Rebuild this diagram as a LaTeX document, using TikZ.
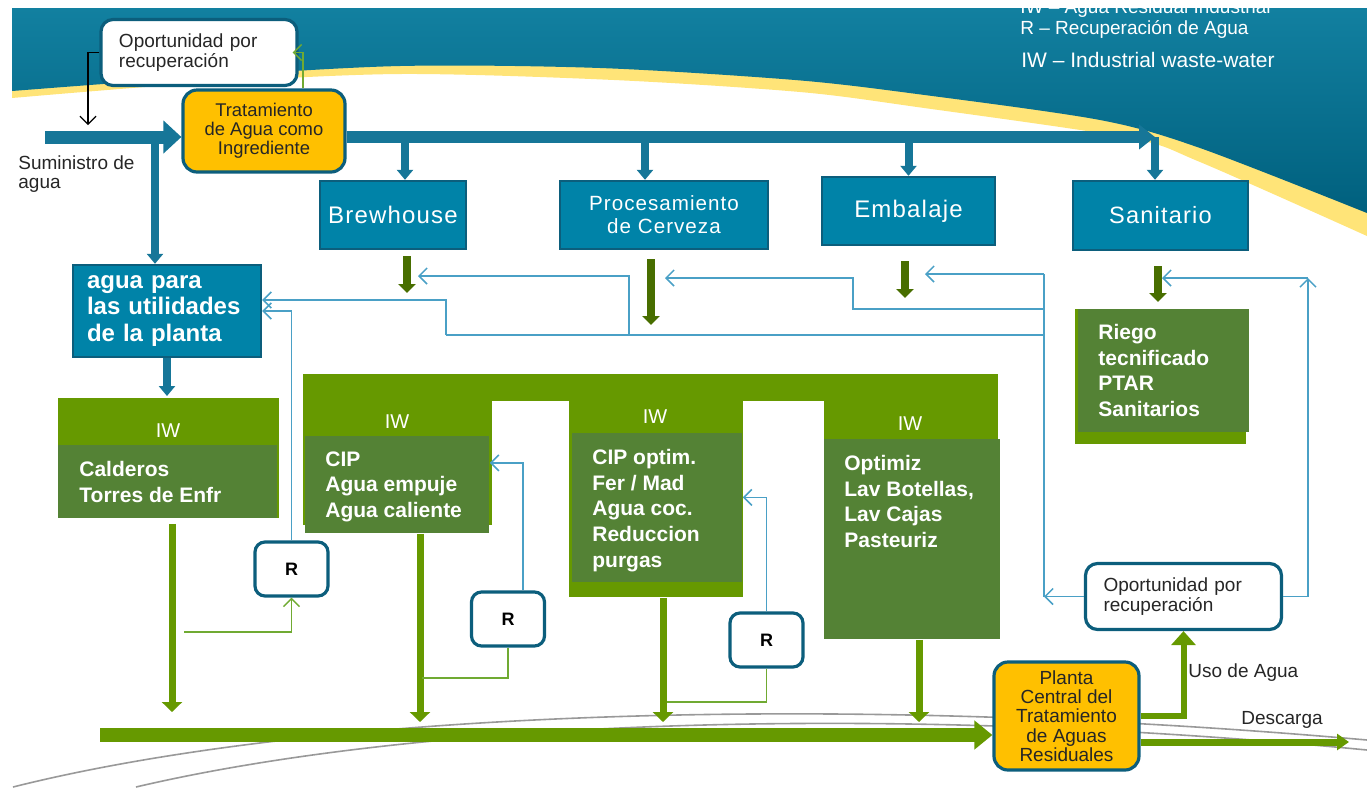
\documentclass[tikz,border=0pt]{standalone}
\usepackage{fontspec}
\setmainfont{Liberation Sans}
\newfontfamily\tealfont[LetterSpace=5]{Liberation Sans}
\usetikzlibrary{positioning}
\usetikzlibrary{arrows.meta}
\definecolor{tealfill}{RGB}{0,131,168}
\definecolor{tealdark}{RGB}{12,94,124}
\definecolor{tealarrow}{RGB}{22,118,152}
\definecolor{bandtop}{RGB}{18,128,160}
\definecolor{bandbot}{RGB}{0,96,126}
\definecolor{bandyel}{RGB}{255,228,120}
\definecolor{orangef}{RGB}{255,192,0}
\definecolor{greenlight}{RGB}{102,153,0}
\definecolor{greendark}{RGB}{84,130,53}
\definecolor{greendeep}{RGB}{72,110,0}
\definecolor{fblue}{RGB}{74,160,198}
\definecolor{thingreen}{RGB}{112,170,50}
\tikzset{
    tealbox/.style = {rectangle, draw=tealdark, line width=1.2pt, fill=tealfill, text=white, align=center, inner sep=2pt},
    oportbox/.style = {rectangle, rounded corners=6pt, draw=tealdark, line width=1.6pt, fill=white, text=black!85, align=left, text width=80pt, inner xsep=9pt, minimum height=33pt, font=\fontsize{9.5}{10.3}\selectfont},
    orangebox/.style = {rectangle, rounded corners=7pt, draw=tealdark, line width=1.6pt, fill=orangef, text=black!85, align=center, inner sep=1pt},
    rbox/.style = {rectangle, rounded corners=5pt, draw=tealdark, line width=1.6pt, fill=white, minimum width=36.5pt, minimum height=27pt, font=\bfseries\fontsize{9}{10}\selectfont},
    iwbody/.style = {rectangle, fill=greendark, anchor=north west, inner sep=0pt},
    iwhead/.style = {text=white, inner sep=0pt, font=\fontsize{10}{11}\selectfont},
    iwtext/.style = {text=white, anchor=north west, align=left, inner sep=0pt, font=\bfseries\fontsize{10.5}{12.8}\selectfont},
    lbl/.style = {text=black!85, inner sep=0pt, font=\fontsize{9.5}{9.6}\selectfont},
    legend/.style = {text=white, anchor=base west, inner sep=0pt, font=\fontsize{9.5}{11}\selectfont},
    edgesup/.style = {-{Triangle[length=9pt,width=16pt]}, line width=6.5pt, draw=tealarrow},
    edgetm/.style = {-{Triangle[length=8pt,width=12pt]}, line width=6pt, draw=tealarrow},
    edget/.style = {-{Triangle[length=5pt,width=8pt]}, line width=4pt, draw=tealarrow},
    edged/.style = {-{Triangle[length=4.5pt,width=8.5pt]}, line width=4pt, draw=greendeep},
    edgeg/.style = {-{Triangle[length=5pt,width=10pt]}, line width=3.5pt, draw=greenlight},
    edgem/.style = {-{Triangle[length=9pt,width=14pt]}, line width=7pt, draw=greenlight},
    edgeu/.style = {-{Triangle[length=7pt,width=12pt]}, line width=3pt, draw=greenlight},
    edgeds/.style = {-{Triangle[length=6pt,width=8pt]}, line width=3.5pt, draw=greenlight},
    edgeb/.style = {-{Straight Barb[length=4pt,width=8pt]}, line width=0.75pt, draw=fblue}, % recovery
    edgek/.style = {-{Straight Barb[length=4pt,width=8pt]}, line width=0.6pt, draw=black},
    lineb/.style = {line width=0.75pt, draw=fblue},
    lineg/.style = {line width=0.75pt, draw=thingreen},
    floorline/.style = {line width=0.8pt, draw=gray!80}
}
\begin{document}
\begin{tikzpicture}[x=0.5pt, y=-0.5pt]
  \useasboundingbox (0,0) rectangle (1367,789);
  % header band
  \fill[bandyel] (12,8) -- (1367,8) -- plot[smooth] coordinates {(1367,236) (1200,162) (1129,138) (917,107) (800,92) (614,80) (400,74) (200,83) (12,98)} -- cycle;
  \shade[top color=bandtop, bottom color=bandbot] (12,8) -- (1367,8) -- plot[smooth] coordinates {(1367,213) (1200,148) (1100,120) (917,94) (795,80) (600,68) (400,66) (200,77) (12,91)} -- cycle;
  \draw[floorline] (13,787) .. controls (300,715) and (800,690) .. (1367,740);
  \draw[floorline] (136,787) .. controls (400,725) and (850,700) .. (1367,750);

  \node[legend] (leg1) at (1020,13) {IW – Agua Residual Industrial};
  \node[legend] (leg2) at (1020,34) {R – Recuperación de Agua};
  \node[legend, font=\fontsize{10.5}{12}\selectfont] (leg3) at (1021,67) {IW – Industrial waste-water};

  % supply side
  \node[oportbox] (oport1) at (199,52.5) {Oportunidad por\\recuperación};
  \node[orangebox, minimum width=81pt, minimum height=41pt, font=\fontsize{9.2}{9.6}\selectfont] (trat) at (264,131) {Tratamiento\\de Agua como\\Ingrediente};
  \node[lbl, anchor=north west, align=left] (supl) at (18,155) {Suministro de\\agua};

  \node[tealbox, minimum width=73pt, minimum height=34pt, font=\tealfont\fontsize{12}{13}\selectfont] (brew) at (393,215) {Brewhouse};
  \node[tealbox, minimum width=104pt, minimum height=34pt, font=\tealfont\fontsize{10.3}{11.5}\selectfont] (proc) at (664,215) {Procesamiento\\de Cerveza};
  \node[tealbox, minimum width=86.5pt, minimum height=34pt, font=\tealfont\fontsize{12}{13}\selectfont] (emb) at (908.5,211) {Embalaje};
  \node[tealbox, minimum width=87.5pt, minimum height=34.5pt, font=\tealfont\fontsize{11.8}{13}\selectfont] (sani) at (1160.5,215.5) {Sanitario};
  \node[tealbox, align=left, text width=80pt, inner xsep=7pt, minimum height=46pt, font=\bfseries\fontsize{12}{13.3}\selectfont] (agua) at (167,311) {agua para\\las utilidades\\de la planta};

  \coordinate (sup) at (45,137);
  \coordinate (sv) at (155,137);
  \coordinate (mt) at (1155,137);
  \coordinate (k1) at (88,125);
  \coordinate (aw) at (167,396);
  \draw[edget] (sv) -- (agua.north -| sv);
  \draw[edgesup] (sup) -- ([yshift=-3pt]trat.west);
  \draw[edgetm] ([yshift=-3pt]trat.east) -- (mt);
  \draw[edget] ([xshift=6pt]brew.north |- mt) -- ([xshift=6pt]brew.north);
  \draw[edget] ([xshift=-9.5pt]proc.north |- mt) -- ([xshift=-9.5pt]proc.north);
  \draw[edget] (emb.north |- mt) -- (emb.north);
  \draw[edget] (mt) -- (sani.north -| mt);
  \draw[edget] (agua.south) -- (aw);
  \draw[edgek] (oport1.west) -| (k1);
  \draw[lineg, -{Straight Barb[length=4pt,width=8pt]}] ([xshift=19.5pt]trat.north) |- ([xshift=-3pt]oport1.east);

  % waste water from the process areas
  \coordinate (d1) at (407,293);
  \coordinate (d2) at (651,325);
  \coordinate (d3) at (905,298);
  \coordinate (d4) at (1158,302);
  \draw[edged] ([yshift=-3pt]brew.south -| d1) -- (d1);
  \draw[edged] ([yshift=-4.5pt]proc.south -| d2) -- (d2);
  \draw[edged] ([yshift=-7.5pt]emb.south -| d3) -- (d3);
  \draw[edged] ([yshift=-7.5pt]sani.south -| d4) -- (d4);

  % IW blocks
  \fill[greenlight] (58,398) rectangle (279,518);
  \fill[greenlight] (303,374) rectangle (998,401);
  \fill[greenlight] (303,374) rectangle (492,525);
  \fill[greenlight] (569,374) rectangle (743,597);
  \fill[greenlight] (824,374) rectangle (998,439);
  \fill[greenlight] (1075,309) rectangle (1246,444);
  \node[iwbody, minimum width=109.5pt, minimum height=36.5pt] (iw1) at (58,445) {};
  \node[iwbody, minimum width=92pt, minimum height=48.5pt] (iw2) at (305,436) {};
  \node[iwbody, minimum width=85pt, minimum height=74.5pt] (iw3) at (572,433) {};
  \node[iwbody, minimum width=88pt, minimum height=100pt] (iw4) at (824,439) {};
  \node[iwbody, minimum width=85.5pt, minimum height=61.5pt] (riego) at (1078,309) {};
  \node[iwhead] (iw1h) at (168,431) {IW};
  \node[iwhead] (iw2h) at (397,422) {IW};
  \node[iwhead] (iw3h) at (655,417) {IW};
  \node[iwhead] (iw4h) at (910,424) {IW};
  \node[iwtext] (iw1t) at (79,461) {Calderos\\Torres de Enfr};
  \node[iwtext] (iw2t) at (325,451) {CIP\\Agua empuje\\Agua caliente};
  \node[iwtext] (iw3t) at (592,449) {CIP optim.\\Fer / Mad\\Agua coc.\\Reduccion\\purgas};
  \node[iwtext] (iw4t) at (844,455) {Optimiz\\Lav Botellas,\\Lav Cajas\\Pasteuriz};
  \node[iwtext] (riegot) at (1098,324) {Riego\\tecnificado\\PTAR\\Sanitarios};

  % recovery
  \node[rbox] (r1) at (291.5,569) {R};
  \node[rbox] (r2) at (508,619) {R};
  \node[rbox] (r3) at (766.5,640) {R};
  \node[oportbox] (oport2) at (1183.5,596.5) {Oportunidad por\\recuperación};
  \node[orangebox, minimum width=72.5pt, minimum height=54pt, font=\fontsize{9.5}{9.6}\selectfont] (planta) at (1066.5,716) {Planta\\Central del\\Tratamiento\\de Aguas\\Residuales};

  \coordinate (v1) at (1044,274);
  \coordinate (v2) at (1044,309);
  \coordinate (v3) at (1044,335);
  \coordinate (ein) at (925,274);
  \coordinate (pin) at (665,278);
  \coordinate (bin) at (418,276);
  \coordinate (s1) at (1308,278);
  \coordinate (sin) at (1162,278);
  \draw[edgeb] (oport2.west) -- (oport2.west -| v1);
  \draw[lineb] (oport2.west -| v1) -- (v1);
  \draw[edgeb] (v1) -- (ein);
  \draw[edgeb] (v2) -- (853,309) |- (pin);
  \draw[lineb] (v3) -- (446,335);
  \draw[edgeb] (629,335) |- (bin);
  \draw[edgeb] (446,335) |- ([yshift=5.5pt]agua.east);
  \draw[edgeb] (oport2.east) -| (s1);
  \draw[edgeb] (s1) -- (sin);
  \draw[edgeb] (r1.north) |- (agua.east);
  \draw[edgeb] ([xshift=7.5pt]r2.north) |- ([yshift=11pt]iw2.east);
  \draw[edgeb] (r3.north) |- ([yshift=5.25pt]iw3.east);

  % flows to the treatment plant
  \coordinate (f1) at (172,712);
  \coordinate (f2) at (420,722);
  \coordinate (f3) at (663,722);
  \coordinate (f4) at (919,722);
  \coordinate (g1) at (184,632);
  \coordinate (g2) at (422,678);
  \coordinate (g3) at (667,702);
  \coordinate (m0) at (100,735);
  \coordinate (dsc) at (1349,742);
  \draw[edgeg] ([yshift=-2.5pt]iw1.south -| f1) -- (f1);
  \draw[edgeg] (iw2.south -| f2) -- (f2);
  \draw[edgeg] ([yshift=-7.5pt]iw3.south -| f3) -- (f3);
  \draw[edgeg] (iw4.south -| f4) -- (f4);
  \draw[lineg, -{Straight Barb[length=4pt,width=8pt]}] (g1) -| (r1.south);
  \draw[lineg] (r2.south) |- (g2);
  \draw[lineg] (r3.south) |- (g3);
  \draw[edgem] (m0) -- ([yshift=-9.5pt]planta.west);
  \draw[edgeu] (planta.east) -| (oport2.south);
  \draw[edgeds] ([yshift=-13pt]planta.east) -- (dsc);
  \node[lbl, anchor=west] (usol) at (1188,673) {Uso de Agua};
  \node[lbl] (dscl) at (1282,720) {Descarga};
\end{tikzpicture}
\end{document}
